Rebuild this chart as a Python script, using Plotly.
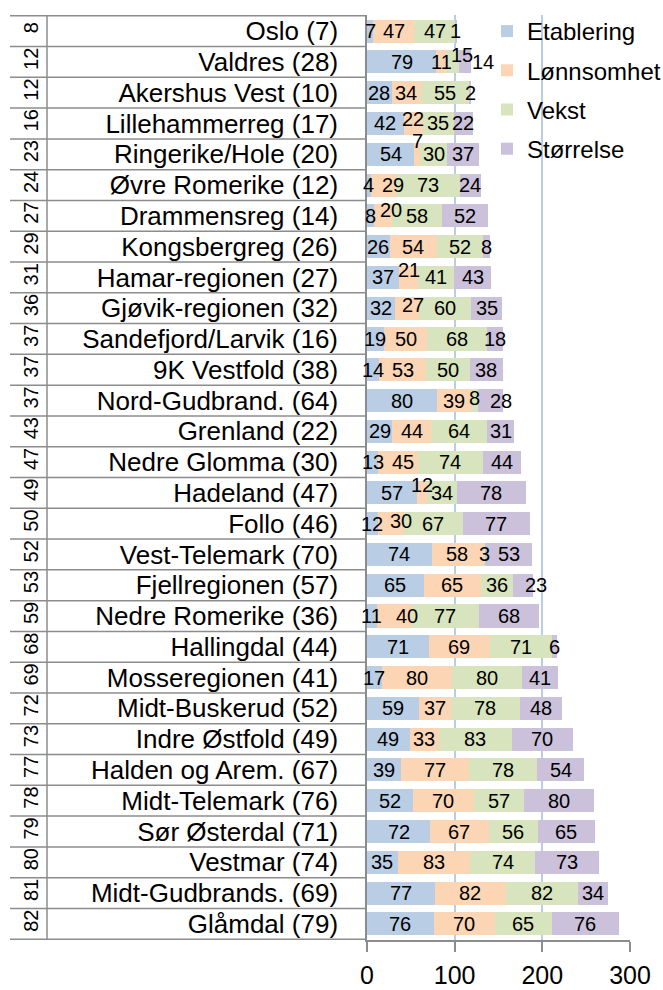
import plotly.graph_objects as go

# Regions, top to bottom, with their total-score rank
regions = [
    "Oslo (7)", "Valdres (28)", "Akershus Vest (10)", "Lillehammerreg (17)",
    "Ringerike/Hole (20)", "Øvre Romerike (12)", "Drammensreg (14)",
    "Kongsbergreg (26)", "Hamar-regionen (27)", "Gjøvik-regionen (32)",
    "Sandefjord/Larvik (16)", "9K Vestfold (38)", "Nord-Gudbrand. (64)",
    "Grenland (22)", "Nedre Glomma (30)", "Hadeland (47)", "Follo (46)",
    "Vest-Telemark (70)", "Fjellregionen (57)", "Nedre Romerike (36)",
    "Hallingdal (44)", "Mosseregionen (41)", "Midt-Buskerud (52)",
    "Indre Østfold (49)", "Halden og Arem. (67)", "Midt-Telemark (76)",
    "Sør Østerdal (71)", "Vestmar (74)", "Midt-Gudbrands. (69)", "Glåmdal (79)",
]
ranks = [8, 12, 12, 16, 23, 24, 27, 29, 31, 36, 37, 37, 37, 43, 47, 49, 50,
         52, 53, 59, 68, 69, 72, 73, 77, 78, 79, 80, 81, 82]

etablering = [7, 79, 28, 42, 54, 4, 8, 26, 37, 32, 19, 14, 80, 29, 13, 57, 12,
              74, 65, 11, 71, 17, 59, 49, 39, 52, 72, 35, 77, 76]
lonnsomhet = [47, 11, 34, 22, 7, 29, 20, 54, 21, 27, 50, 53, 39, 44, 45, 12, 30,
              58, 65, 40, 69, 80, 37, 33, 77, 70, 67, 83, 82, 70]
vekst = [47, 15, 55, 35, 30, 73, 58, 52, 41, 60, 68, 50, 8, 64, 74, 34, 67,
         3, 36, 77, 71, 80, 78, 83, 78, 57, 56, 74, 82, 65]
storrelse = [1, 14, 2, 22, 37, 24, 52, 8, 43, 35, 18, 38, 28, 31, 44, 78, 77,
             53, 23, 68, 6, 41, 48, 70, 54, 80, 65, 73, 34, 76]

series_names = ["Etablering", "Lønnsomhet", "Vekst", "Størrelse"]
series_values = [etablering, lonnsomhet, vekst, storrelse]
series_colors = ["#B9CDE5", "#FCD5B5", "#D7E4BD", "#CCC1DA"]

# Value labels on narrow segments are moved aside so they don't collide:
# (row, series) -> (shift right px, shift up px)
label_nudge = {
    (1, 2): (10, 7), (1, 3): (18, 0), (3, 1): (0, 4), (4, 1): (0, 13),
    (5, 1): (10, 0), (6, 1): (8, 6), (8, 1): (0, 7), (9, 1): (6, 3),
    (12, 2): (0, 3), (12, 3): (10, 0), (14, 1): (5, 0), (15, 1): (0, 8),
    (16, 1): (10, 3), (18, 3): (13, 0), (19, 1): (13, 0),
}

FONT = "Liberation Sans, Arial, sans-serif"
GREY = "#8C8C8C"

W, H = 663, 990
M_L, M_R, M_T, M_B = 367, 33, 15, 50
PLOT_W = W - M_L - M_R


def px_to_paper(px):
    return (px - M_L) / PLOT_W


fig = go.Figure()
for name, vals, color in zip(series_names, series_values, series_colors):
    fig.add_trace(go.Bar(
        y=regions, x=vals, name=name, orientation="h",
        marker=dict(color=color, line=dict(width=0)),
        width=0.75, legendgroup=name, hoverinfo="x+y+name",
    ))

annotations = []
# value labels centred on each stacked segment
for r, region in enumerate(regions):
    start = 0
    for s, vals in enumerate(series_values):
        v = vals[r]
        dx, dy = label_nudge.get((r, s), (0, 0))
        annotations.append(dict(
            x=start + v / 2, y=region, xref="x", yref="y", text=str(v),
            showarrow=False, font=dict(size=20, color="black", family=FONT),
            xshift=dx, yshift=dy,
        ))
        start += v

# rotated rank labels in the outer category column
for region, rk in zip(regions, ranks):
    annotations.append(dict(
        x=px_to_paper(31), y=region, xref="paper", yref="y", text=str(rk),
        textangle=-90, showarrow=False, xanchor="center", yshift=3,
        font=dict(size=20, color="black", family=FONT),
    ))

shapes = []
n = len(regions)
for k in range(n + 1):
    shapes.append(dict(
        type="line", xref="paper", yref="y",
        x0=px_to_paper(10), x1=0, y0=k - 0.5, y1=k - 0.5,
        line=dict(color=GREY, width=1.5),
    ))
shapes.append(dict(
    type="line", xref="paper", yref="y",
    x0=px_to_paper(47), x1=px_to_paper(47), y0=-0.5, y1=n - 0.5,
    line=dict(color=GREY, width=1.5),
))

fig.update_layout(
    width=W, height=H,
    margin=dict(l=M_L, r=M_R, t=M_T, b=M_B, autoexpand=False),
    barmode="stack",
    plot_bgcolor="white", paper_bgcolor="white",
    font=dict(family=FONT, color="black"),
    showlegend=True,
    legend=dict(
        x=px_to_paper(487), xanchor="left", y=1.0065, yanchor="top",
        font=dict(size=24, color="black", family=FONT),
        bgcolor="rgba(0,0,0,0)", traceorder="grouped", tracegroupgap=5,
    ),
    xaxis=dict(
        range=[0, 300], dtick=100, tick0=0,
        showgrid=True, gridcolor="#B9CDE5", gridwidth=1.5,
        zeroline=False, showline=True, linecolor=GREY, linewidth=1.5,
        ticks="outside", ticklen=10, tickcolor=GREY, tickwidth=1.5,
        tickfont=dict(size=25, color="black", family=FONT),
        ticklabelstandoff=2, ticklabeloverflow="allow",
        fixedrange=True, automargin=False,
    ),
    yaxis=dict(
        autorange="reversed", showgrid=False, zeroline=False,
        showline=True, linecolor=GREY, linewidth=1.5,
        tickmode="array", tickvals=regions, ticktext=regions,
        ticks="", tickfont=dict(size=26, color="black", family=FONT),
        ticklabelstandoff=22, fixedrange=True, automargin=False,
    ),
    annotations=annotations,
    shapes=shapes,
)

fig.write_html("out.html")
